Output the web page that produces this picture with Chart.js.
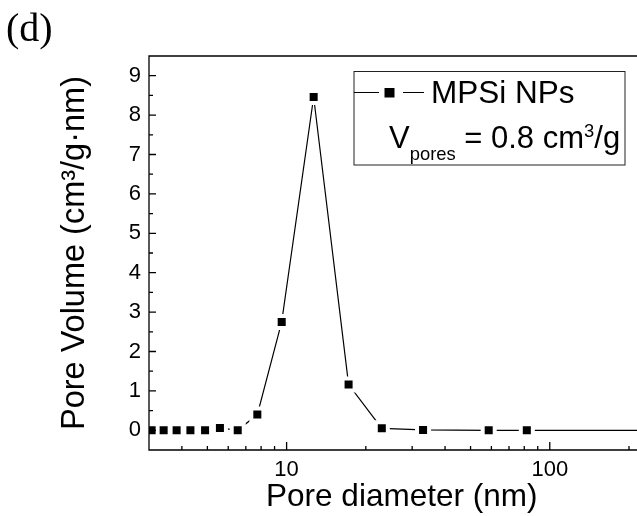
<!DOCTYPE html>
<html>
<head>
<meta charset="utf-8">
<script src="https://cdn.jsdelivr.net/npm/chart.js@4.4.1/dist/chart.umd.min.js"></script>
<style>
  html, body { margin: 0; padding: 0; background: #fff; overflow: hidden; }
  #wrap { width: 637px; height: 516px; overflow: hidden; }
  canvas { display: block; }
</style>
</head>
<body>
<div id="wrap"><canvas id="poreChart" width="667" height="516"></canvas></div>
<script>
// ==============================
// DATA
// ==============================
const poreDiameter = [3.09, 3.41, 3.82, 4.31, 4.90, 5.58, 6.52, 7.74, 9.58, 12.67, 17.2, 23.0, 33.0, 58.6, 81.8, 240];
const poreVolume   = [0.00, 0.00, 0.00, 0.00, 0.00, 0.06, 0.00, 0.40, 2.75, 8.46, 1.16, 0.05, 0.01, 0.00, 0.00, 0.00];
const seriesLabel  = "MPSi NPs";

const xTickValues  = [3, 4, 5, 6, 7, 8, 9, 10, 20, 30, 40, 50, 60, 70, 80, 90, 100, 200];
const xLabelTicks  = [10, 100];
const yLabelTicks  = [0, 1, 2, 3, 4, 5, 6, 7, 8, 9];

const panelTag     = "(d)";
const volumeMain   = "V";
const volumeSub    = "pores";
const volumeValue  = " = 0.8 cm";
const volumeSup    = "3";
const volumeUnit   = "/g";

const SANS  = "'Liberation Sans', Arial, sans-serif";
const SERIF = "'Liberation Serif', 'Times New Roman', serif";

// ==============================
// FRAME, INWARD TICKS, LEGEND
// ==============================
const originFrame = {
    id: "originFrame",
    afterDatasetsDraw(chart){
        const {ctx, chartArea: a, scales: {x, y}} = chart;
        ctx.save();
        ctx.strokeStyle = "#000";
        ctx.lineWidth = 1.3;
        ctx.beginPath();
        ctx.rect(a.left, a.top, a.right - a.left, a.bottom - a.top);

        // -- ticks point into the plot --
        x.ticks.forEach(t => {
            const px = x.getPixelForValue(t.value);
            if(px < a.left || px > a.right) return;
            const len = xLabelTicks.includes(t.value) ? 8 : 4;
            ctx.moveTo(px, a.bottom);
            ctx.lineTo(px, a.bottom - len);
        });
        y.ticks.forEach(t => {
            const py = y.getPixelForValue(t.value);
            const len = yLabelTicks.includes(t.value) ? 7 : 4;
            ctx.moveTo(a.left, py);
            ctx.lineTo(a.left + len, py);
        });
        ctx.stroke();
        ctx.restore();
    },
    afterDraw(chart){
        const {ctx, chartArea: a} = chart;
        ctx.save();

        // -- legend box --
        const bx = a.left + 205, by = a.top + 15.5, bw = 271, bh = 93.5;
        ctx.fillStyle = "#fff";
        ctx.fillRect(bx, by, bw, bh);
        ctx.strokeStyle = "#222";
        ctx.lineWidth = 1;
        ctx.strokeRect(bx, by, bw, bh);

        const ly = by + 21;
        ctx.strokeStyle = "#000";
        ctx.lineWidth = 1.2;
        ctx.beginPath();
        ctx.moveTo(bx, ly);       ctx.lineTo(bx + 25, ly);
        ctx.moveTo(bx + 49, ly);  ctx.lineTo(bx + 70, ly);
        ctx.stroke();
        ctx.fillStyle = "#000";
        ctx.fillRect(bx + 30.5, ly - 4.5, 10, 9.5);

        ctx.textBaseline = "alphabetic";
        ctx.textAlign = "left";
        ctx.font = "31.5px " + SANS;
        ctx.fillText(seriesLabel, bx + 77, by + 31.7);

        // -- V_pores = 0.8 cm^3/g --
        let tx = bx + 35;
        const base = by + 76;
        ctx.font = "31px " + SANS;
        ctx.fillText(volumeMain, tx, base);
        tx += ctx.measureText(volumeMain).width;
        ctx.font = "18.4px " + SANS;
        ctx.fillText(volumeSub, tx, base + 12.4);
        tx += ctx.measureText(volumeSub).width;
        ctx.font = "31px " + SANS;
        ctx.fillText(volumeValue, tx, base);
        tx += ctx.measureText(volumeValue).width;
        ctx.font = "18.4px " + SANS;
        ctx.fillText(volumeSup, tx, base - 11);
        tx += ctx.measureText(volumeSup).width;
        ctx.font = "31px " + SANS;
        ctx.fillText(volumeUnit, tx, base);

        // -- panel tag --
        ctx.font = "40px " + SERIF;
        ctx.fillText(panelTag, 6, 41);
        ctx.restore();
    }
};

// ==============================
// CHART
// ==============================
const ctx = document.getElementById("poreChart").getContext("2d");

const poreChart = new Chart(ctx, {
    type: "line",
    data: {
        datasets: [{
            label: seriesLabel,
            data: poreDiameter.map((d, i) => ({x: d, y: poreVolume[i]})),
            borderColor: "#000",
            borderWidth: 1.2,
            tension: 0,
            pointStyle: "rect",
            pointRadius: 8.5,
            pointBackgroundColor: "#000",
            pointBorderColor: "#fff",
            pointBorderWidth: 4
        }]
    },
    options: {
        responsive: false,
        animation: false,
        events: [],
        layout: { padding: { top: 56, left: 0, right: 0, bottom: 0 } },
        plugins: {
            legend: { display: false },
            tooltip: { enabled: false }
        },
        scales: {
            x: {
                type: "logarithmic",
                min: 3,
                max: 250,
                afterBuildTicks: s => {
                    s.ticks = xTickValues.map(v => ({value: v, major: xLabelTicks.includes(v)}));
                },
                afterFit: s => { s.height = 66; },
                grid: { display: false, drawTicks: false },
                border: { display: false },
                ticks: {
                    autoSkip: false,
                    maxRotation: 0,
                    padding: 7,
                    color: "#000",
                    font: { family: SANS, size: 22 },
                    callback: v => xLabelTicks.includes(v) ? String(v) : ""
                },
                title: {
                    display: true,
                    text: "Pore diameter (nm)",
                    color: "#000",
                    font: { family: SANS, size: 31.5 },
                    padding: { top: 0, bottom: 0 }
                }
            },
            y: {
                min: -0.5,
                max: 9.5,
                afterFit: s => { s.width = 149; },
                grid: { display: false, drawTicks: false },
                border: { display: false },
                ticks: {
                    stepSize: 0.5,
                    autoSkip: false,
                    padding: 8,
                    color: "#000",
                    font: { family: SANS, size: 22 },
                    callback: v => yLabelTicks.includes(v) ? String(v) : ""
                },
                title: {
                    display: true,
                    text: "Pore Volume (cm³/g·nm)",
                    color: "#000",
                    font: { family: SANS, size: 32.5 },
                    padding: { top: 56, bottom: 0 }
                }
            }
        }
    },
    plugins: [originFrame]
});
</script>
</body>
</html>
